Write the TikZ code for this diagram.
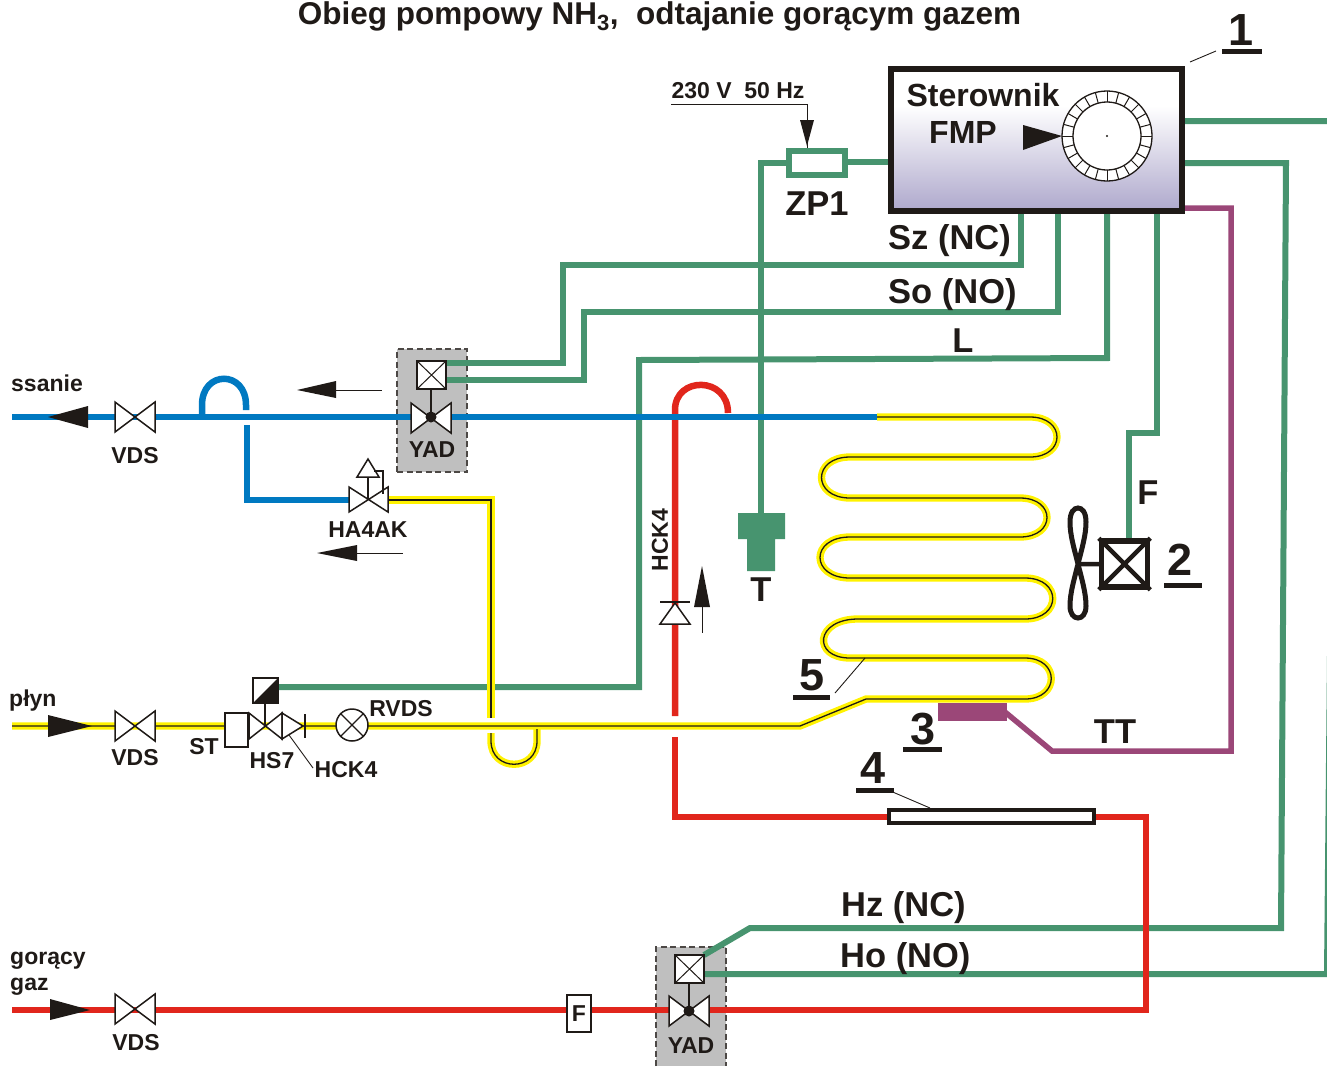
\documentclass[tikz,border=0pt]{standalone}
\usepackage{fontspec}
\setmainfont{Liberation Sans}
\definecolor{ink}{HTML}{1F1A17}
\definecolor{wire}{HTML}{47946F}
\definecolor{suction}{HTML}{0079C1}
\definecolor{hotgas}{HTML}{E1261C}
\definecolor{liquid}{HTML}{FFF200}
\definecolor{sensor}{HTML}{9B4778}
\definecolor{panel}{HTML}{AEA8CC}
\pgfdeclareverticalshading{panelshade}{100bp}{color(0bp)=(panel); color(25bp)=(panel); color(62bp)=(white); color(100bp)=(white)}
\tikzset{
  lbl/.style={font=\bfseries\fontsize{23}{23}\selectfont,text=ink,inner sep=0pt,anchor=base},
  biglbl/.style={lbl,font=\bfseries\fontsize{34.5}{34.5}\selectfont},
  ctrllbl/.style={lbl,font=\bfseries\fontsize{32}{32}\selectfont},
  numlbl/.style={lbl,font=\bfseries\fontsize{45}{45}\selectfont},
  sym/.style={draw=ink,line width=1.5pt,fill=white},
  leader/.style={draw=ink,line width=0.9pt},
  wireline/.style={draw=wire,line width=6pt},
  bluepipe/.style={draw=suction,line width=6.5pt},
  redpipe/.style={draw=hotgas,line width=6.5pt},
  liquidpipe/.style={draw=liquid,double=ink,double distance=1.3pt,line width=3pt},
  sensorline/.style={draw=sensor,line width=5.5pt},
  underline/.style={draw=ink,line width=5pt},
  tip/.style={fill=ink,draw=none},
  yadbox/.style={fill=black!25,draw=ink!80,dash pattern=on 6pt off 3.5pt,line width=1.4pt},
  pics/bowtie/.style={code={
    \draw[sym] (-20,-15) -- (20,15) -- (20,-15) -- (-20,15) -- cycle;
    \coordinate (-l) at (-20,0);
    \coordinate (-r) at (20,0);
  }},
  pics/crossbox/.style={code={
    \draw[sym] (-14.5,-14) rectangle (14.5,14);
    \draw[ink,line width=1pt] (-14.5,-14) -- (14.5,14) (-14.5,14) -- (14.5,-14);
    \coordinate (-s) at (0,14);
    \coordinate (-e) at (14.5,0);
  }},
}
\begin{document}
\begin{tikzpicture}[x=1pt,y=-1pt]
  \useasboundingbox (0,0) rectangle (1327,1066);
  \clip (0,0) rectangle (1327,1066);
  % Draw the title.
  \node[lbl,font=\bfseries\fontsize{31.5}{31.5}\selectfont] (title) at (659.5,24) {Obieg pompowy NH\textsubscript{3},\ \ odtajanie gorącym gazem};

  % Draw the grey valve boxes first.
  \node[yadbox,minimum width=70pt,minimum height=123pt,inner sep=0pt] (boxa) at (432,410.5) {};
  \fill[black!25] (656,947) rectangle (726,1066);
  \draw[yadbox,fill=none] (656,1066) -- (656,947) -- (726,947) -- (726,1066);

  % Name the places where the pipes and wires turn.
  \coordinate (sstart) at (12,417);
  \coordinate (send) at (877,417);
  \coordinate (pstart) at (12,726);
  \coordinate (gstart) at (12,1010);
  \coordinate (ctrlbr) at (1185,208);
  \coordinate (bulbl) at (1005,712);

  % Draw the wires.
  \draw[wireline] (1185,121) -- (1335,121) -- (1327,974) -- (704,974);
  \draw[wireline] (1185,163) -- (1286,163) -- (1281,928) -- (750,928) -- (704,955);
  \draw[wireline] (1021,214) -- (1021,265) -- (563,265) -- (563,363) -- (447,363);
  \draw[wireline] (1058,214) -- (1058,312) -- (584,312) -- (584,380) -- (447,380);
  \draw[wireline] (1107,214) -- (1107,358) -- (639,360) -- (639,687) -- (279,687);
  \draw[wireline] (1157,214) -- (1157,433) -- (1129,433) -- (1129,540);
  \draw[wireline] (888,162) -- (847,162);
  \draw[wireline] (787,163) -- (761,163) -- (761,515);
  \draw[sensorline] (ctrlbr) -- (1231,208) -- (1231,751) -- (1052,751) -- (bulbl);

  % Draw the hot gas line, it goes below the suction line.
  \draw[redpipe] (gstart) -- (1146,1010) -- (1146,817) -- (888,817) -- (675,817) -- (675,737);
  \draw[redpipe] (675,716) -- (675,410) .. controls (675,376) and (728,376) .. (728,413);

  % Draw the suction line with its hooks.
  \draw[bluepipe] (sstart) -- (send);
  \draw[bluepipe] (202,414) -- (202,405) .. controls (202,370) and (246,370) .. (246,405) -- (246,410);
  \draw[bluepipe] (247,425) -- (247,500) -- (350,500);

  % Draw the liquid line and the evaporator coil.
  \draw[liquidpipe] (pstart) -- (800,726) -- (866,699) -- (1025,699)
    .. controls (1060,699) and (1060,658) .. (1025,658) -- (850,658)
    .. controls (812,658) and (815,619) .. (858,619) -- (1025,619)
    .. controls (1062,619) and (1062,578) .. (1025,578) -- (850,578)
    .. controls (810,578) and (810,537) .. (850,537) -- (1020,537)
    .. controls (1056,537) and (1056,498) .. (1020,498) -- (850,498)
    .. controls (812,498) and (812,457) .. (850,457) -- (1030,457)
    .. controls (1066,457) and (1066,417) .. (1030,417) -- (send);
  \draw[liquidpipe] (388,500) -- (491,500) -- (491,718);
  \draw[liquidpipe] (491,733) -- (491,741) .. controls (491,772) and (537,772) .. (537,741) -- (537,729);
  \draw[bluepipe] (840,417) -- (send);

  % Draw the shut-off valves.
  \pic (vdsa) at (135,417) {bowtie};
  \pic (vdsb) at (135,726) {bowtie};
  \pic (vdsc) at (135,1009) {bowtie};
  % Draw the flow arrows.
  \fill[tip] (48,417) -- (88,406) -- (88,428) -- cycle;
  \fill[tip] (92,726) -- (48,715) -- (48,737) -- cycle;
  \fill[tip] (90,1010) -- (50,999) -- (50,1020) -- cycle;
  \fill[tip] (297,390) -- (336,381) -- (336,398) -- cycle;
  \draw[leader] (336,390) -- (382,390);
  \fill[tip] (317,553) -- (357,545) -- (357,561) -- cycle;
  \draw[leader] (357,553) -- (403,553);
  \fill[tip] (702,566) -- (694,607) -- (710,607) -- cycle;
  \draw[leader] (702,607) -- (702,633);

  % Draw the upper solenoid valve.
  \draw[ink,line width=1.3pt] (431,375) -- (431,417);
  \pic (yada) at (431,418) {bowtie};
  \pic (sola) at (431.5,375) {crossbox};
  \fill[ink] (431,417) circle (5.5);
  % Draw the lower solenoid valve.
  \pic (yadb) at (689,1011) {bowtie};
  \draw[ink,line width=1.3pt] (689,969) -- (689,1011);
  \pic (solb) at (689.5,969) {crossbox};
  \fill[ink] (689,1011) circle (5.5);

  % Draw the pressure valve HA4AK.
  \draw[ink,line width=1.3pt] (368,500) -- (368,477);
  \draw[sym] (349,487) -- (388,512) -- (388,487) -- (349,512) -- cycle;
  \draw[sym] (357,477) -- (379,477) -- (368,459) -- cycle;
  \draw[ink,line width=1.1pt] (374,471) -- (383,471) -- (383,494);

  % Draw the liquid line valves.
  \node[sym,minimum width=23pt,minimum height=34pt,inner sep=0pt] (st) at (236.5,730) {};
  \draw[ink,line width=1.3pt] (265,703) -- (265,726);
  \draw[sym] (249,713) -- (282,739) -- (282,713) -- (249,739) -- cycle;
  \draw[sym] (282,713) -- (303,726) -- (282,739) -- cycle;
  \draw[ink,line width=1.3pt] (305,714) -- (305,738);
  \draw[leader] (289,735) -- (313,768);
  \node[sym,minimum width=25pt,minimum height=25pt,inner sep=0pt] (sols) at (265.5,690.5) {};
  \fill[ink] (sols.north east) -- (sols.south east) -- (sols.south west) -- cycle;
  \node[sym,circle,minimum size=32pt,inner sep=0pt] (rvds) at (352,725) {};
  \draw[ink,line width=1.1pt] (rvds.north west) -- (rvds.south east) (rvds.north east) -- (rvds.south west);

  % Draw the filter and the check valve on the hot gas line.
  \node[sym,minimum width=24pt,minimum height=37pt,inner sep=0pt,lbl,anchor=center,text=ink] (filt) at (579,1013.5) {F};
  \draw[sym] (660,624) -- (690,624) -- (675,603) -- cycle;
  \draw[ink,line width=1.3pt] (660,602) -- (690,602);

  % Draw the heater on the hot gas line.
  \node[draw=ink,fill=white,line width=4pt,minimum width=205pt,minimum height=13pt,inner sep=0pt] (heater) at (991.5,816.5) {};

  % Draw the fuse and the thermostat.
  \node[draw=wire,fill=white,line width=5.5pt,minimum width=56pt,minimum height=24pt,inner sep=0pt] (fuse) at (817,163) {};
  \fill[wire] (738,513) rectangle (785,539) (747,539) rectangle (775,571);
  \fill[sensor] (938,703) rectangle (1007,721);

  % Draw the fan.
  \draw[ink,line width=5pt] (1078,564) .. controls (1074,548) and (1070,535) .. (1070,522)
    .. controls (1070,512) and (1074,508) .. (1078,508)
    .. controls (1082,508) and (1086,512) .. (1086,522)
    .. controls (1086,535) and (1082,548) .. (1078,564)
    .. controls (1074,580) and (1070,593) .. (1070,606)
    .. controls (1070,614) and (1074,618) .. (1078,618)
    .. controls (1082,618) and (1086,614) .. (1086,606)
    .. controls (1086,593) and (1082,580) .. (1078,564);
  \node[draw=ink,fill=white,line width=5.5pt,minimum width=46pt,minimum height=46pt,inner sep=0pt] (motor) at (1124.5,564) {};
  \draw[ink,line width=4.5pt] (motor.north west) -- (motor.south east) (motor.north east) -- (motor.south west) (motor.west) -- (1078,564);

  % Draw the controller with its dial.
  \node[draw=ink,line width=6pt,shading=panelshade,minimum width=291pt,minimum height=142pt,inner sep=0pt] (ctrl) at (1036.5,140) {};
  \fill[white] (1107,136) circle (45);
  \foreach \a in {0,15,...,345} {
    \draw[ink,line width=1pt] (1107,136) ++(\a:34) -- ++(\a:11);
  }
  \draw[ink,line width=1.3pt] (1107,136) circle (45) circle (34);
  \fill[ink] (1107,136) circle (1.2);
  \fill[tip] (1062,136) -- (1023,125) -- (1023,150) -- cycle;
  \node[ctrllbl] (ster) at (983,106) {Sterownik};
  \node[ctrllbl] (fmp) at (963,143) {FMP};

  % Draw the mains supply.
  \node[lbl] (mains) at (738,98) {230 V\ \ 50 Hz};
  \coordinate (mainsl) at (671,104);
  \coordinate (mainsc) at (807,104);
  \draw[leader] (mainsl) -- (mainsc) -- (fuse.north -| mainsc);
  \fill[tip] (807,146) -- (800,120) -- (814,120) -- cycle;
  \node[biglbl] (zp) at (817,215) {ZP1};

  % Draw the text labels.
  \node[biglbl,anchor=base west] (sz) at (888,249) {Sz (NC)};
  \node[biglbl,anchor=base west] (so) at (888,303) {So (NO)};
  \node[biglbl] (l) at (963,352) {L};
  \node[biglbl] (f) at (1148,504) {F};
  \node[biglbl] (tt) at (1115,743) {TT};
  \node[biglbl] (t) at (761,601) {T};
  \node[biglbl,anchor=base west] (hz) at (841,916) {Hz (NC)};
  \node[biglbl,anchor=base west] (ho) at (840,967) {Ho (NO)};
  \node[lbl,anchor=base west] (ssanie) at (11,391) {ssanie};
  \node[lbl,anchor=base west] (plyn) at (9,706) {płyn};
  \node[lbl,anchor=base west] (goracy) at (10,964) {gorący};
  \node[lbl,anchor=base west] (gaz) at (10,990) {gaz};
  \node[lbl] (va) at (135,463) {VDS};
  \node[lbl] (vb) at (135,765) {VDS};
  \node[lbl] (vc) at (136,1050) {VDS};
  \node[lbl] (ya) at (432,457) {YAD};
  \node[lbl] (yb) at (691,1053) {YAD};
  \node[lbl] (ha) at (368,537) {HA4AK};
  \node[lbl] (stl) at (204,754) {ST};
  \node[lbl] (hs) at (272,768) {HS7};
  \node[lbl] (hcka) at (346,777) {HCK4};
  \node[lbl] (rv) at (401,716) {RVDS};
  \node[lbl,rotate=90,anchor=center] (hckb) at (660,540) {HCK4};

  % Draw the numbers and their leaders.
  \node[numlbl] (na) at (1241,45) {1};
  \draw[underline] (1222,51) -- (1262,51);
  \draw[leader] (1190,62) -- (1216,51);
  \node[numlbl] (nb) at (1180,575) {2};
  \draw[underline] (1164,585) -- (1202,585);
  \node[numlbl] (nc) at (923,744) {3};
  \draw[underline] (903,749) -- (942,749);
  \node[numlbl] (nd) at (873,783) {4};
  \draw[underline] (856,790) -- (894,790);
  \draw[leader] (888,790) -- (930,808);
  \node[numlbl] (ne) at (812,690) {5};
  \draw[underline] (793,697) -- (830,697);
  \draw[leader] (835,693) -- (865,658);
\end{tikzpicture}
\end{document}
